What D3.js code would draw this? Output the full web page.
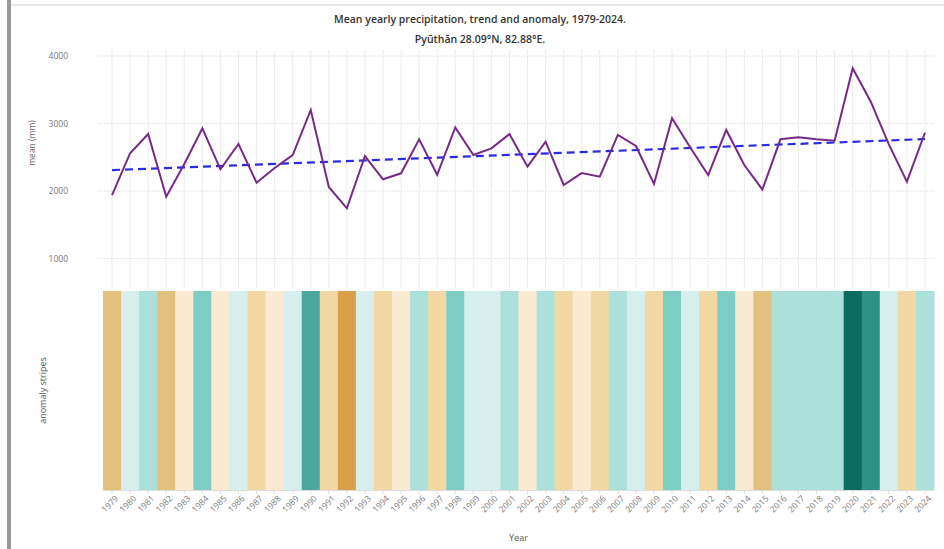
<meta charset="utf-8">
<head>
    <script type="text/javascript" src="https://cdn.jsdelivr.net/npm/d3@7"></script>
    <style>
        body { margin: 0; background: #fff; }
        text { font-family: "Open Sans", sans-serif; }
    </style>
</head>
<body>
    <svg width=944 height=549></svg>
</body>
<script>
    // data
    let years = d3.range(1979, 2025);
    let precip = [
        1940, 2560, 2844, 1916, 2400, 2928, 2321, 2696, 2123, 2340,
        2533, 3200, 2060, 1743, 2518, 2173, 2262, 2766, 2240, 2943,
        2533, 2632, 2844, 2360, 2730, 2089, 2265, 2212, 2830, 2667,
        2104, 3077, 2647, 2237, 2904, 2385, 2020, 2766, 2795, 2766,
        2745, 3818, 3323, 2690, 2138, 2863
    ];
    let trend = [2310, 2770];   // trend line at 1979 and 2024
    let yTicks = [1000, 2000, 3000, 4000];
    let stripeBreaks = [1850, 2040, 2255, 2450, 2700, 2880, 3120, 3300, 3600];
    let stripeColors = ["#d8a049", "#e2c07e", "#f2d9a4", "#fbead3", "#d6eeec",
                        "#ace0da", "#7ecdc4", "#4ba89e", "#2c9283", "#0b6b5c"];

    let left = 103, right = 934;
    let topY = 50, topBottom = 288;
    let stripeTop = 291, stripeBottom = 490;

    let svg = d3.select('svg');

    // frame bits
    svg.append("rect").attr("x", 7).attr("y", 0).attr("width", 4).attr("height", 549)
        .attr("fill", "#9a9a9a");
    svg.append("line").attr("x1", 11).attr("x2", 944).attr("y1", 5).attr("y2", 5)
        .attr("stroke", "#e2e2e2").attr("stroke-width", 1.5);

    let x = d3.scaleBand().domain(years).range([left, right]).padding(0);
    let xc = d => x(d) + x.bandwidth() / 2;
    let y = d3.scaleLinear().domain([1000, 4000]).range([258.5, 56]);
    let color = d3.scaleThreshold().domain(stripeBreaks).range(stripeColors);

    // title
    svg.append("text").attr("x", 480).attr("y", 23).attr("text-anchor", "middle")
        .attr("font-size", 10.5).attr("font-weight", 600).attr("fill", "#333")
        .text("Mean yearly precipitation, trend and anomaly, 1979-2024.");
    svg.append("text").attr("x", 480).attr("y", 43).attr("text-anchor", "middle")
        .attr("font-size", 10.5).attr("font-weight", 600).attr("fill", "#333")
        .text("Pyūthān 28.09°N, 82.88°E.");

    // grid
    svg.append("g").selectAll("line").data(years).enter().append("line")
        .attr("x1", xc).attr("x2", xc).attr("y1", topY).attr("y2", topBottom)
        .attr("stroke", "#ececec").attr("stroke-width", 1);
    svg.append("g").selectAll("line").data(yTicks).enter().append("line")
        .attr("x1", left - 5).attr("x2", right).attr("y1", d => y(d)).attr("y2", d => y(d))
        .attr("stroke", "#e6e6e6").attr("stroke-dasharray", "2,1");

    // y axis
    let yAxis = d3.axisLeft(y).tickValues(yTicks).tickFormat(d3.format("d"))
        .tickSize(0).tickPadding(0);
    let yg = svg.append("g").attr("transform", `translate(68, 0)`).call(yAxis);
    yg.select(".domain").remove();
    yg.selectAll("text").attr("font-size", 8.5).attr("fill", "#777")
        .attr("font-family", "Open Sans, sans-serif");

    svg.append("text").attr("transform", "translate(35, 143) rotate(-90)")
        .attr("text-anchor", "middle").attr("font-size", 8.5).attr("fill", "#666")
        .text("mean (mm)");
    svg.append("text").attr("transform", `translate(46, ${(stripeTop + stripeBottom) / 2}) rotate(-90)`)
        .attr("text-anchor", "middle").attr("font-size", 9).attr("fill", "#555")
        .text("anomaly stripes");

    // trend
    svg.append("line")
        .attr("x1", xc(years[0])).attr("x2", xc(years[years.length - 1]))
        .attr("y1", y(trend[0])).attr("y2", y(trend[1]))
        .attr("stroke", "#2a2ae0").attr("stroke-width", 2.2)
        .attr("stroke-dasharray", "8,5");

    // precipitation line
    let line = d3.line().x((d, i) => xc(years[i])).y(d => y(d));
    svg.append("path").datum(precip)
        .attr("d", line)
        .attr("fill", "none").attr("stroke", "#762a88").attr("stroke-width", 2)
        .attr("stroke-linejoin", "miter");

    // stripes
    svg.append("g").selectAll("rect").data(precip).enter().append("rect")
        .attr("x", (d, i) => x(years[i]))
        .attr("y", stripeTop)
        .attr("width", x.bandwidth() + 0.5)
        .attr("height", stripeBottom - stripeTop)
        .attr("fill", d => color(d));

    // x axis
    let xAxis = d3.axisBottom(x).tickSize(4).tickSizeOuter(0);
    let xg = svg.append("g").attr("transform", `translate(0, ${stripeBottom})`).call(xAxis);
    xg.select(".domain").attr("stroke", "#ddd");
    xg.selectAll(".tick line").attr("stroke", "#ddd");
    xg.selectAll("text")
        .attr("font-size", 8.5).attr("fill", "#777")
        .attr("font-family", "Open Sans, sans-serif")
        .attr("text-anchor", "end")
        .attr("dx", "-0.2em").attr("dy", "0.5em")
        .attr("transform", "rotate(-45)");

    svg.append("text").attr("x", (left + right) / 2).attr("y", 541)
        .attr("text-anchor", "middle").attr("font-size", 9).attr("fill", "#555")
        .text("Year");
</script>
